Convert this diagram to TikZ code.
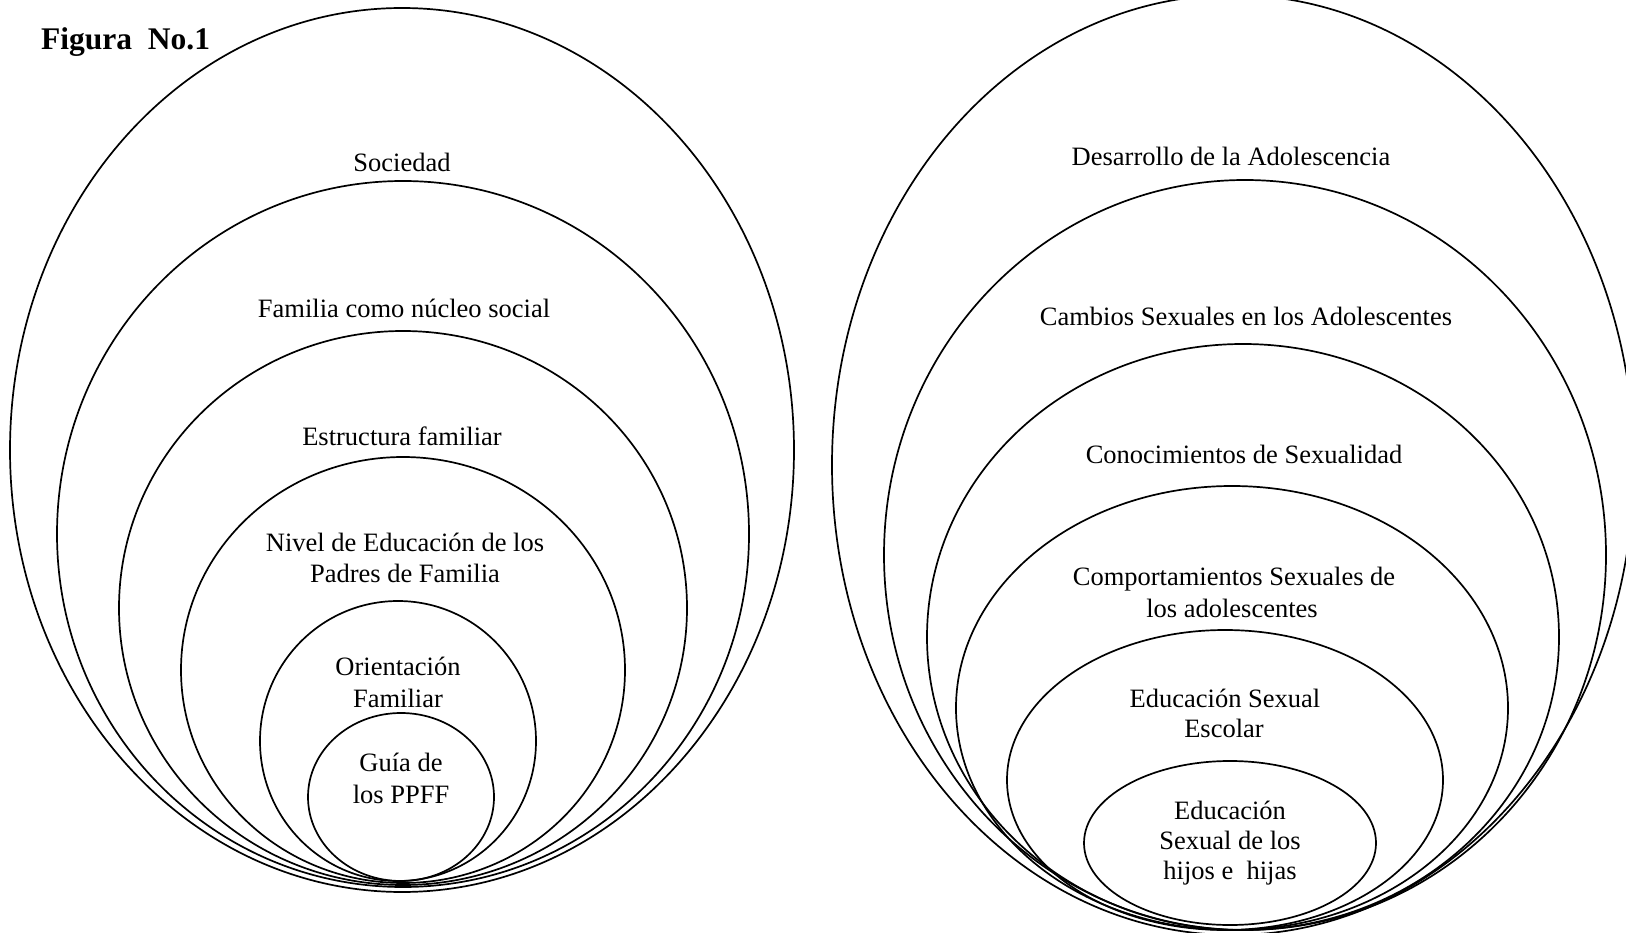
\documentclass[tikz,border=0pt]{standalone}
\usepackage{fontspec}
\setmainfont{Liberation Serif}
\begin{document}
\begin{tikzpicture}[x=1pt,y=-1pt,
  ring/.style={draw=black,line width=1.7pt},
  lbl/.style={inner sep=0pt,anchor=base,font=\fontsize{26.5}{31}\selectfont},
  ttl/.style={inner sep=0pt,anchor=base west,font=\fontsize{31.5}{36}\selectfont\bfseries}]
\useasboundingbox (0,0) rectangle (1626,933);
\clip (0,0) rectangle (1626,933);
\fill[white] (0,0) rectangle (1626,933);
% left group
\draw[ring] (402,450) ellipse [x radius=392, y radius=442];
\draw[ring] (403,534) ellipse [x radius=346, y radius=353];
\draw[ring] (403,608) ellipse [x radius=284, y radius=277];
\draw[ring] (403,670) ellipse [x radius=222, y radius=213];
\draw[ring] (398,741) ellipse [x radius=138, y radius=140];
\draw[ring] (401,797) ellipse [x radius=93, y radius=84];
% right group
\draw[ring] (1233,465) ellipse [x radius=401, y radius=470];
\draw[ring] (1245,555) ellipse [x radius=361, y radius=375];
\draw[ring] (1243,637) ellipse [x radius=316, y radius=293];
\draw[ring] (1232,708) ellipse [x radius=276, y radius=222];
\draw[ring] (1225,780) ellipse [x radius=218, y radius=150];
\draw[ring] (1230,843) ellipse [x radius=146, y radius=82];
% title
\node[ttl] (title) at (41,50) {Figura~~No.1};
% left labels
\node[lbl] (soc) at (402,172) {Sociedad};
\node[lbl] (fam) at (404,318) {Familia como núcleo social};
\node[lbl] (est) at (402,446) {Estructura familiar};
\node[lbl] (niva) at (405,551) {Nivel de Educación de los};
\node[lbl] (nivb) at (405,582) {Padres de Familia};
\node[lbl] (oria) at (398,675) {Orientación};
\node[lbl] (orib) at (398,707) {Familiar};
\node[lbl] (guia) at (401,771) {Guía de};
\node[lbl] (guib) at (401,803) {los PPFF};
% right labels
\node[lbl] (des) at (1231,166) {Desarrollo de la Adolescencia};
\node[lbl] (cam) at (1246,326) {Cambios Sexuales en los Adolescentes};
\node[lbl] (con) at (1244,463) {Conocimientos de Sexualidad};
\node[lbl] (coma) at (1234,585) {Comportamientos Sexuales de};
\node[lbl] (comb) at (1232,617) {los adolescentes};
\node[lbl] (esea) at (1225,707) {Educación Sexual};
\node[lbl] (eseb) at (1224,737) {Escolar};
\node[lbl] (edha) at (1230,819) {Educación};
\node[lbl] (edhb) at (1230,849) {Sexual de los};
\node[lbl] (edhc) at (1230,879) {hijos e~~hijas};
\end{tikzpicture}
\end{document}
